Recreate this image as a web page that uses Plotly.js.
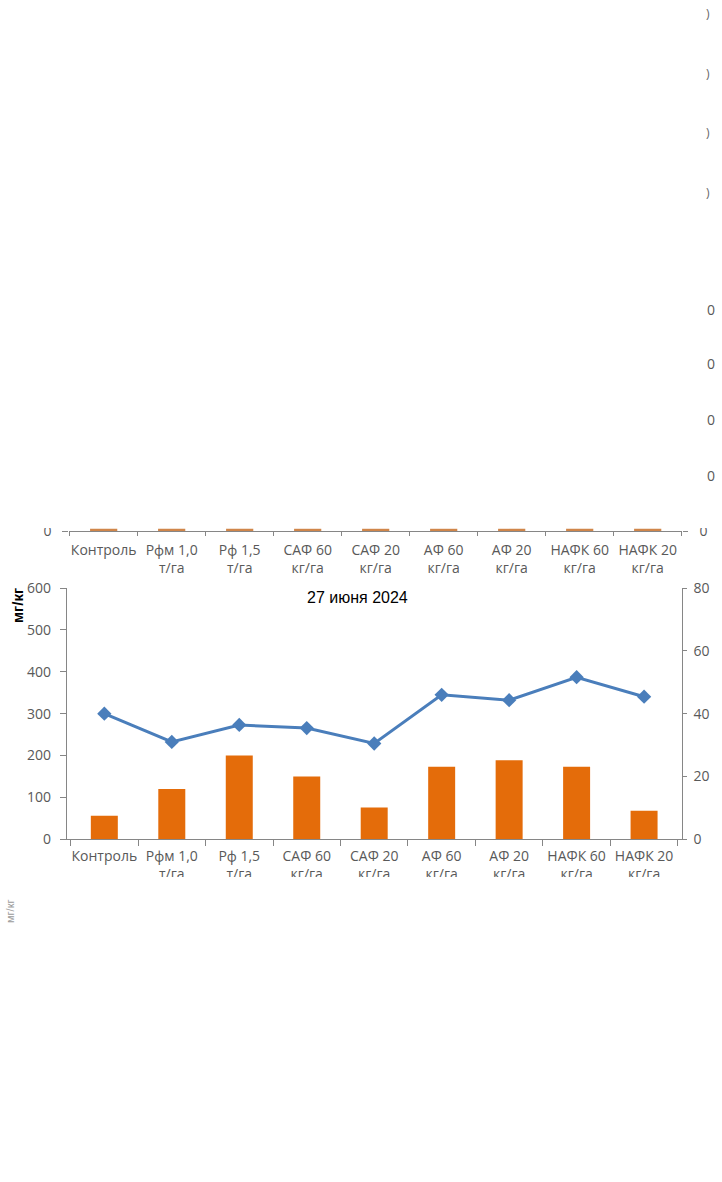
<!DOCTYPE html>
<html>
<head>
<meta charset="utf-8">
<script src="https://cdn.plot.ly/plotly-3.0.1.min.js"></script>
<style>html,body{margin:0;padding:0;background:#fff;}#chart{width:722px;height:1182px;}</style>
</head>
<body>
<div id="chart"></div>
<script>
// ---- data ----
var categories = ['Контроль<br>', 'Рфм 1,0<br>т/га', 'Рф 1,5<br>т/га', 'САФ 60<br>кг/га', 'САФ 20<br>кг/га', 'АФ 60<br>кг/га', 'АФ 20<br>кг/га', 'НАФК 60<br>кг/га', 'НАФК 20<br>кг/га'];
var barValues = [56, 120, 200, 150, 76, 173, 189, 173, 68];          // left axis, мг/кг
var lineValues = [40, 31, 36.4, 35.4, 30.5, 46, 44.3, 51.6, 45.4];   // right axis
var topBarValues = [1, 1, 1, 1, 1, 1, 1, 1, 1];                      // upper (clipped) chart
var leftTicks = [0, 100, 200, 300, 400, 500, 600];
var rightTicks = [0, 20, 40, 60, 80];
var chartTitle = '27 июня 2024';
var axisTitle = 'мг/кг';
var strayZeroY = [309, 364, 420, 475];
var strayPartialY = [14, 73, 133, 192];

// ---- layout helpers ----
var W = 722, H = 1182;
function px(x) { return x / W; }
function py(y) { return 1 - y / H; }

var tickFont = {family: 'Open Sans, sans-serif', size: 14, color: '#595959'};
var axisGray = '#868686';

var traces = [
  {type: 'bar', x: categories, y: barValues, xaxis: 'x', yaxis: 'y',
   marker: {color: '#e46c0a'}, hoverinfo: 'skip'},
  {type: 'scatter', mode: 'lines+markers', x: categories, y: lineValues, xaxis: 'x', yaxis: 'y2',
   line: {color: '#4a7ebb', width: 3}, marker: {symbol: 'diamond', size: 11, color: '#4a7ebb'},
   hoverinfo: 'skip'},
  {type: 'bar', x: categories, y: topBarValues, xaxis: 'x2', yaxis: 'y3',
   marker: {color: '#d0864a'}, hoverinfo: 'skip'},
  {type: 'scatter', mode: 'markers', x: [categories[0]], y: [0], xaxis: 'x2', yaxis: 'y4',
   marker: {opacity: 0}, hoverinfo: 'skip'}
];

var annotations = [
  {text: chartTitle, xref: 'paper', yref: 'paper', x: px(357.5), y: py(597), showarrow: false,
   xanchor: 'center', yanchor: 'middle', font: {family: 'Liberation Sans, Arial, sans-serif', size: 16, color: '#000'}},
  {text: '<b>' + axisTitle + '</b>', xref: 'paper', yref: 'paper', x: px(17), y: py(606), showarrow: false,
   textangle: -90, xanchor: 'center', yanchor: 'middle',
   font: {family: 'Liberation Sans Narrow, Arial Narrow, Liberation Sans, sans-serif', size: 15, color: '#000'}},
  {text: axisTitle, xref: 'paper', yref: 'paper', x: px(10), y: py(912), showarrow: false,
   textangle: -90, xanchor: 'center', yanchor: 'middle',
   font: {family: 'Liberation Sans Narrow, Liberation Sans, sans-serif', size: 11, color: '#9a9a9a'}}
];
strayZeroY.forEach(function (yy) {
  annotations.push({text: '0', xref: 'paper', yref: 'paper', x: px(711), y: py(yy), showarrow: false,
    xanchor: 'center', yanchor: 'middle', font: tickFont});
});
strayPartialY.forEach(function (yy) {
  annotations.push({text: ')', xref: 'paper', yref: 'paper', x: px(708), y: py(yy), showarrow: false,
    xanchor: 'center', yanchor: 'middle', font: {family: 'Open Sans, sans-serif', size: 12, color: '#666'}});
});

var layout = {
  width: W, height: H, autosize: false,
  margin: {l: 0, r: 0, t: 0, b: 0, pad: 0},
  paper_bgcolor: '#fff', plot_bgcolor: 'rgba(0,0,0,0)',
  showlegend: false, bargap: 0.6,
  font: tickFont,
  xaxis: {domain: [px(66.7), px(681.7)], anchor: 'y', type: 'category', showline: true, linecolor: axisGray,
    linewidth: 1, ticks: 'outside', tickson: 'boundaries', ticklen: 6, tickcolor: axisGray, tickangle: 0,
    showgrid: false, zeroline: false, tickfont: tickFont, ticklabelstandoff: 4, fixedrange: true},
  yaxis: {domain: [py(839.3), py(588)], anchor: 'x', range: [0, 600], tickvals: leftTicks,
    showline: true, linecolor: axisGray, ticks: 'outside', ticklen: 6, tickcolor: axisGray,
    showgrid: false, zeroline: false, tickfont: tickFont, ticklabelstandoff: 6, fixedrange: true},
  yaxis2: {domain: [py(839.3), py(588)], anchor: 'x', overlaying: 'y', side: 'right', range: [0, 80],
    tickvals: rightTicks, showline: true, linecolor: axisGray, ticks: 'outside', ticklen: 4, tickcolor: axisGray,
    showgrid: false, zeroline: false, tickfont: tickFont, ticklabelstandoff: 4, fixedrange: true},
  xaxis2: {domain: [px(69.3), px(681.7)], anchor: 'y3', type: 'category', showline: true, linecolor: axisGray,
    ticks: 'outside', tickson: 'boundaries', ticklen: 4, tickcolor: axisGray, tickangle: 0,
    showgrid: false, zeroline: false, tickfont: tickFont, ticklabelstandoff: 6, fixedrange: true},
  yaxis3: {domain: [py(531), py(309)], anchor: 'x2', range: [0, 100], tickvals: [0], ticktext: ['0'],
    showline: false, ticks: 'outside', ticklen: 6, tickcolor: axisGray, showgrid: false, zeroline: false,
    tickfont: tickFont, ticklabelstandoff: 8, fixedrange: true},
  yaxis4: {domain: [py(531), py(309)], anchor: 'x2', overlaying: 'y3', side: 'right', range: [0, 100],
    tickvals: [0], ticktext: ['0'], showline: false, ticks: 'outside', ticklen: 5, tickcolor: axisGray,
    showgrid: false, zeroline: false, tickfont: tickFont, ticklabelstandoff: 9, fixedrange: true},
  shapes: [
    {type: 'rect', xref: 'paper', yref: 'paper', x0: 0, x1: 1, y0: py(528), y1: 1,
     fillcolor: '#fff', line: {width: 0}, layer: 'above'},
    {type: 'rect', xref: 'paper', yref: 'paper', x0: 0, x1: 1, y0: 0, y1: py(877),
     fillcolor: '#fff', line: {width: 0}, layer: 'above'}
  ],
  annotations: annotations
};

Plotly.newPlot('chart', traces, layout, {displayModeBar: false, staticPlot: true});
</script>
</body>
</html>
